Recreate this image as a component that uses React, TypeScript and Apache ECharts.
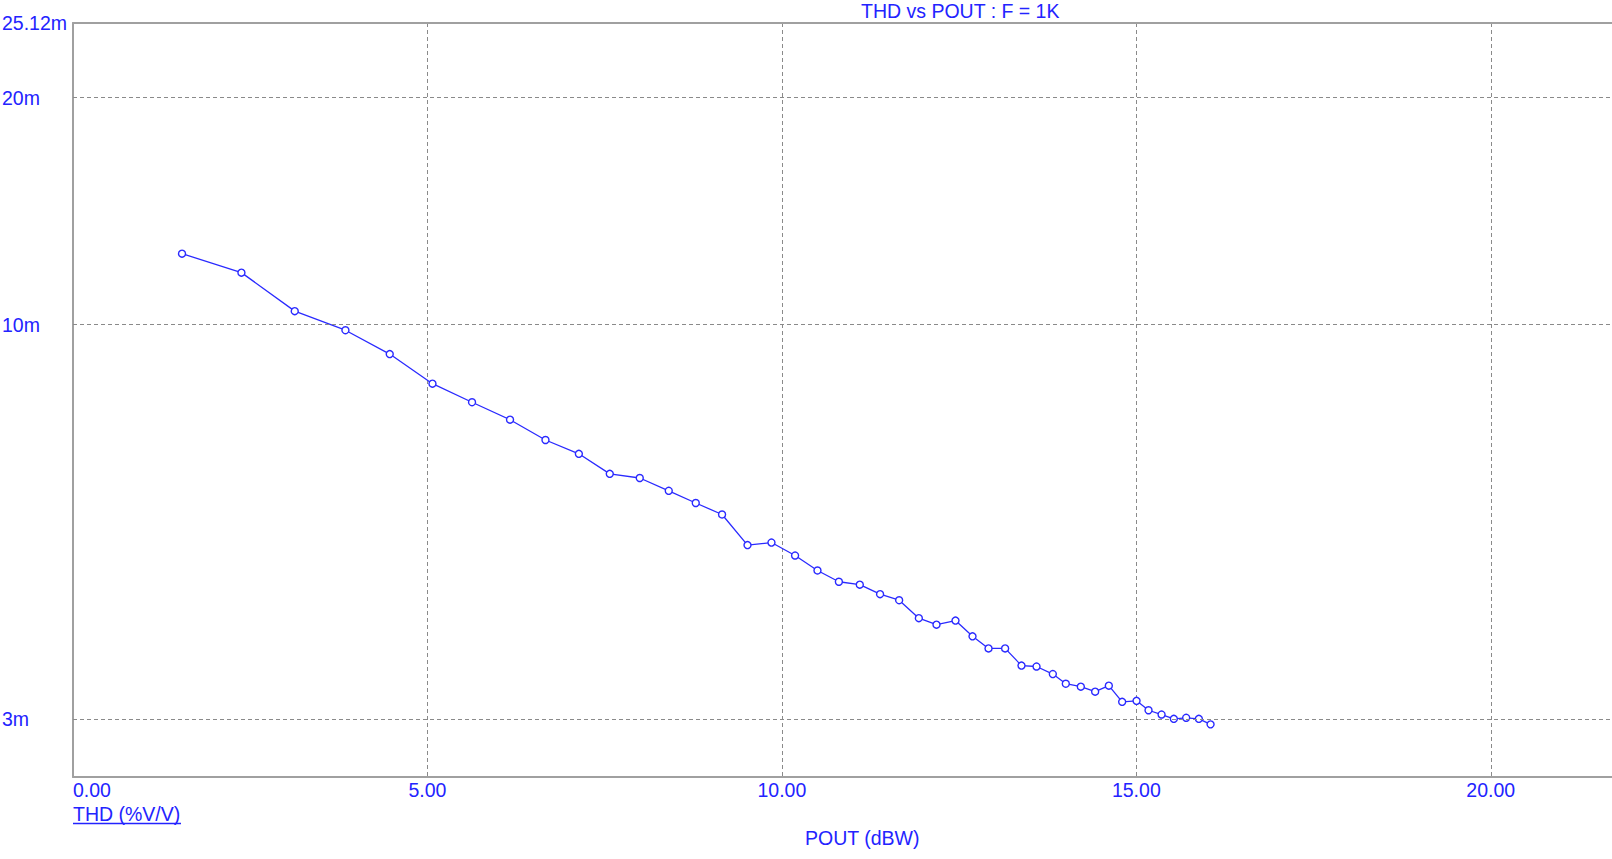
import React, { useEffect, useRef } from "react";
import * as echarts from "echarts";

// POUT (dBW)
const pout: number[] = [
  1.538, 2.376, 3.128, 3.843, 4.468, 5.071, 5.629, 6.165, 6.665, 7.136,
  7.572, 7.995, 8.404, 8.785, 9.156, 9.515, 9.853, 10.186, 10.502, 10.804,
  11.099, 11.385, 11.654, 11.932, 12.181, 12.449, 12.689, 12.915, 13.149, 13.38,
  13.592, 13.822, 14.005, 14.217, 14.419, 14.612, 14.8, 15.003, 15.172, 15.356,
  15.529, 15.703, 15.882, 16.047,
];
// THD (%V/V)
const thd: number[] = [
  0.01242, 0.01172, 0.01042, 0.00983, 0.00914, 0.00835, 0.00789, 0.00748, 0.00703, 0.00674,
  0.00634, 0.00626, 0.00602, 0.0058, 0.0056, 0.0051, 0.00514, 0.00494, 0.00472, 0.00456,
  0.00452, 0.00439, 0.00431, 0.00408, 0.004, 0.00405, 0.00386, 0.00372, 0.00372, 0.00353,
  0.00352, 0.00344, 0.00334, 0.00331, 0.00326, 0.00332, 0.00316, 0.00317, 0.00308, 0.00304,
  0.003, 0.00301, 0.003, 0.00295,
];

const yTickValues: number[] = [0.02512, 0.02, 0.01, 0.003];
const yTickLabels: string[] = ["25.12m", "20m", "10m", "3m"];
const xMin = 0;
const xMax = 21.71;
const xInterval = 5;
const yMin = 0.002512;
const yMax = 0.02512;

const TITLE = "THD vs POUT : F = 1K";
const X_NAME = "POUT (dBW)";
const Y_NAME = "THD (%V/V)";

const BLUE = "#2323ff";
const LINE_BLUE = "#2a2aff";
const GRAY = "#a0a0a0";
const GRID_GRAY = "#8a8a8a";
const FONT = '"Liberation Sans", Arial, sans-serif';
const FS = 19.5;

export default function App() {
  const ref = useRef<HTMLDivElement>(null);

  useEffect(() => {
    if (!ref.current) return;
    const chart = echarts.init(ref.current, undefined, { renderer: "svg" });

    const data = pout.map((x, i) => [x, thd[i]]);

    const markData = yTickValues.map((v, i) => ({
      yAxis: v,
      label: { formatter: yTickLabels[i] },
      lineStyle:
        i === 0
          ? { color: "rgba(0,0,0,0)", width: 0 }
          : { color: GRID_GRAY, type: [4, 3] as any, width: 1 },
    }));

    chart.setOption({
      animation: false,
      backgroundColor: "#ffffff",
      textStyle: { fontFamily: FONT },
      grid: { left: 73, top: 23, right: 0, bottom: 82, containLabel: false },
      xAxis: [
        {
          type: "value",
          min: xMin,
          max: xMax,
          interval: xInterval,
          axisLine: { show: true, lineStyle: { color: GRAY, width: 2 } },
          axisTick: { show: false },
          axisLabel: {
            color: BLUE,
            fontSize: FS,
            fontFamily: FONT,
            margin: 3,
            alignMinLabel: "left",
            showMaxLabel: false,
            formatter: (v: number) =>
              Math.abs(v / xInterval - Math.round(v / xInterval)) < 1e-6 ? v.toFixed(2) : "",
          },
          splitLine: {
            show: true,
            lineStyle: { color: GRID_GRAY, type: [4, 3], width: 1 },
          },
        },
        {
          type: "value",
          position: "top",
          min: xMin,
          max: xMax,
          interval: xInterval,
          axisLine: { show: true, onZero: false, lineStyle: { color: GRAY, width: 2 } },
          axisTick: { show: false },
          axisLabel: { show: false },
          splitLine: { show: false },
        },
      ],
      yAxis: {
        type: "log",
        logBase: 10,
        min: yMin,
        max: yMax,
        axisLine: { show: true, lineStyle: { color: GRAY, width: 2 } },
        axisTick: { show: false },
        axisLabel: { show: false },
        splitLine: { show: false },
        minorSplitLine: { show: false },
      },
      series: [
        {
          type: "line",
          data,
          xAxisIndex: 0,
          clip: false,
          symbol: "circle",
          symbolSize: 7,
          showSymbol: true,
          itemStyle: { color: "#ffffff", borderColor: LINE_BLUE, borderWidth: 1.4 },
          lineStyle: { color: LINE_BLUE, width: 1.3 },
          markLine: {
            silent: true,
            symbol: "none",
            precision: 10,
            animation: false,
            label: {
              show: true,
              position: "start",
              align: "left",
              verticalAlign: "middle",
              distance: 71,
              color: BLUE,
              fontSize: FS,
              fontFamily: FONT,
            },
            data: markData,
          },
        },
      ],
      graphic: [
        {
          type: "text",
          x: 861,
          y: 11,
          style: {
            text: TITLE,
            fill: BLUE,
            font: `${FS}px ${FONT}`,
            textAlign: "left",
            textVerticalAlign: "middle",
          },
        },
        {
          type: "text",
          x: 73,
          y: 814,
          style: {
            text: Y_NAME,
            fill: BLUE,
            font: `${FS}px ${FONT}`,
            textAlign: "left",
            textVerticalAlign: "middle",
          },
        },
        {
          type: "line",
          shape: { x1: 73, y1: 823.5, x2: 181, y2: 823.5 },
          style: { stroke: BLUE, lineWidth: 1.3 },
        },
        {
          type: "text",
          x: 805,
          y: 838,
          style: {
            text: X_NAME,
            fill: BLUE,
            font: `${FS}px ${FONT}`,
            textAlign: "left",
            textVerticalAlign: "middle",
          },
        },
      ],
    });

    return () => chart.dispose();
  }, []);

  return (
    <div
      ref={ref}
      style={{ position: "fixed", left: 0, top: 0, width: 1612, height: 859, background: "#fff" }}
    />
  );
}
